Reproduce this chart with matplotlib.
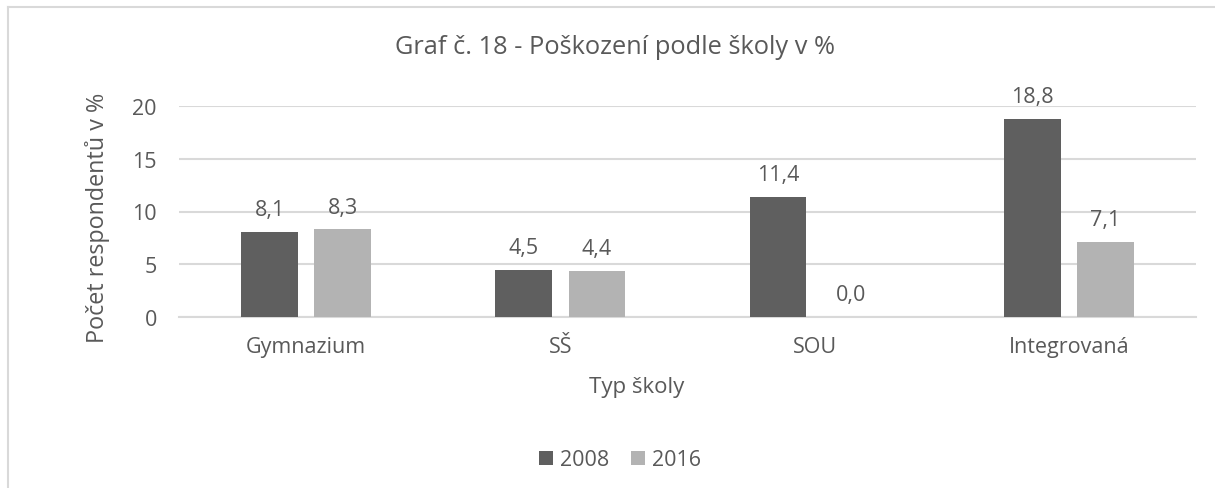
import numpy as np
import matplotlib.pyplot as plt
from matplotlib.lines import Line2D

categories = ['Gymnazium', 'SŠ', 'SOU', 'Integrovaná']
years = ['2008', '2016']
vals_2008 = [8.1, 4.5, 11.4, 18.8]
vals_2016 = [8.3, 4.4, 0.0, 7.1]
y_ticks = [0, 5, 10, 15, 20]

plt.rcParams['font.family'] = ['Open Sans', 'DejaVu Sans']
txt = '#595959'

W, H = 1215, 489
fig = plt.figure(figsize=(W / 100, H / 100), dpi=100)
ax = fig.add_axes([179 / W, 1 - 318 / H, (1196 - 179) / W, (318 - 107) / H])

x = np.arange(len(categories))
bw = 0.224
off = 0.144
b1 = ax.bar(x - off, vals_2008, bw, color='#5f5f5f', label=years[0], zorder=3)
b2 = ax.bar(x + off, vals_2016, bw, color='#b3b3b3', label=years[1], zorder=3)

# data labels with decimal comma
for bars in (b1, b2):
    for r in bars:
        v = r.get_height()
        ax.annotate(f'{v:.1f}'.replace('.', ','), (r.get_x() + r.get_width() / 2, v),
                    xytext=(0, 16), textcoords='offset points', ha='center', va='center',
                    fontsize=15.5, color=txt)

ax.set_xlim(-0.5, 3.5)
ax.set_ylim(0, 20)
ax.set_yticks(y_ticks)
ax.set_xticks(x)
ax.set_xticklabels(categories)
ax.yaxis.grid(True, color='#d9d9d9', linewidth=1.5, zorder=0)
ax.set_axisbelow(True)
for s in ['top', 'right', 'left']:
    ax.spines[s].set_visible(False)
ax.spines['bottom'].set_color('#d9d9d9')
ax.spines['bottom'].set_linewidth(1.5)
ax.tick_params(length=0, labelsize=15.5, labelcolor=txt)
ax.tick_params(axis='x', pad=14)
ax.tick_params(axis='y', pad=16)

fig.text(97 / W, 1 - 218 / H, 'Počet respondentů v %', rotation=90, ha='center', va='center',
         fontsize=16.8, color=txt)
fig.text(637 / W, 1 - 388 / H, 'Typ školy', ha='center', va='center', fontsize=16, color=txt)
fig.text(615 / W, 1 - 47 / H, 'Graf č. 18 - Poškození podle školy v %', ha='center',
         va='center', fontsize=18.3, color=txt)

leg = fig.legend(handles=[b1, b2], labels=years, loc='center', bbox_to_anchor=(620 / W, 1 - 461 / H),
                 ncol=2, frameon=False, fontsize=15.5, handlelength=0.65, handleheight=0.65,
                 handletextpad=0.35, columnspacing=1.0)
for t in leg.get_texts():
    t.set_color(txt)

# chart border (top and left)
fig.add_artist(Line2D([8 / W, 8 / W], [0, 1 - 8 / H], color='#d9d9d9', linewidth=1.5))
fig.add_artist(Line2D([8 / W, 1], [1 - 8 / H, 1 - 8 / H], color='#d9d9d9', linewidth=1.5))

fig.savefig('out.png', dpi=100)
